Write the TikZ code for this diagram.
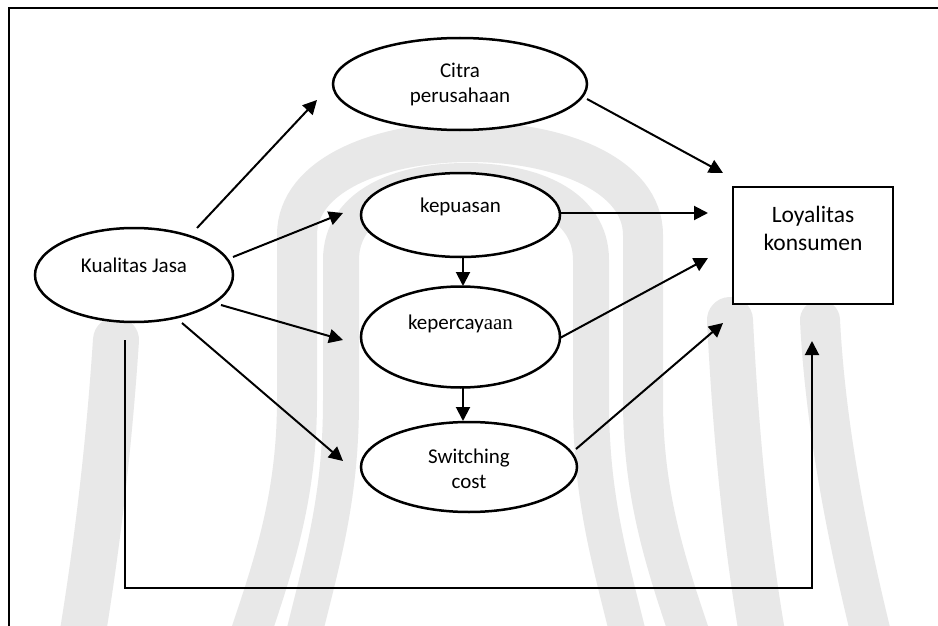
\documentclass[tikz,border=0pt]{standalone}
\usepackage{fontspec}
\setmainfont{Carlito}
\newfontfamily\serifpart{Liberation Serif}
\usetikzlibrary{shapes.geometric,arrows.meta}
\begin{document}
\begin{tikzpicture}[x=1pt,y=-1pt,
  ell/.style={ellipse,draw,line width=2.5pt,fill=white,inner sep=0pt},
  box/.style={rectangle,draw,line width=2.5pt,fill=white,inner sep=0pt},
  arr/.style={line width=2pt,-{Triangle[length=14pt,width=14pt]}},
  wm/.style={draw=black!9,line cap=round},
  txt/.style={font=\fontsize{21}{25}\selectfont,align=center,inner sep=0pt},
  bigtxt/.style={font=\fontsize{23.5}{28}\selectfont,align=center,inner sep=0pt}]
\useasboundingbox (0,0) rectangle (938,626);
\fill[white] (0,0) rectangle (938,626);
% faint watermark in the background
\draw[wm,line width=36pt] (300,650) .. controls (322,560) and (341,500) .. (341,400) -- (341,260)
  .. controls (341,205) and (400,181) .. (466,181)
  .. controls (532,181) and (591,205) .. (591,260) -- (591,400)
  .. controls (591,500) and (610,560) .. (632,650);
\draw[wm,line width=40pt] (245,650) .. controls (272,570) and (297,500) .. (297,400) -- (297,235)
  .. controls (297,175) and (380,142) .. (470,142)
  .. controls (560,142) and (643,175) .. (643,235) -- (643,400)
  .. controls (643,500) and (668,570) .. (695,650);
\draw[wm,line width=46pt] (730,320) .. controls (735,420) and (745,540) .. (765,650);
\draw[wm,line width=40pt] (820,320) .. controls (825,420) and (845,530) .. (875,650);
\draw[wm,line width=46pt] (116,340) .. controls (110,430) and (100,530) .. (80,650);
% outer frame
\draw[line width=2pt] (9,626) -- (9,8) -- (938,8);
% nodes
\node[ell,minimum width=198pt,minimum height=94pt,
  label={[txt,yshift=10pt]center:Kualitas Jasa}] (kj) at (134,275) {};
\node[ell,minimum width=254pt,minimum height=92pt,
  label={[txt,yshift=-0.5pt]center:Citra\\perusahaan}] (citra) at (460,84) {};
\node[ell,minimum width=199pt,minimum height=84pt,
  label={[txt,yshift=8pt]center:kepuasan}] (puas) at (460.5,215) {};
\node[ell,minimum width=199pt,minimum height=101pt,
  label={[txt,yshift=13pt]center:kepercay{\serifpart aan}}] (percaya) at (460.5,337) {};
\node[ell,minimum width=216pt,minimum height=90pt,
  label={[txt,yshift=-2pt]center:Switching\\cost}] (switch) at (469,467) {};
\node[box,minimum width=160pt,minimum height=117pt,
  label={[bigtxt,yshift=17pt]center:Loyalitas\\konsumen}] (loyal) at (813,245.5) {};
% connector end points (arrows stop short of the shapes)
\coordinate (kjA) at (197,228);  \coordinate (citraIn) at (317,100);
\coordinate (kjB) at (233,257);  \coordinate (puasIn) at (343,213);
\coordinate (kjC) at (221,305);  \coordinate (percayaIn) at (343,340);
\coordinate (kjD) at (182,323);  \coordinate (switchIn) at (343,461);
\coordinate (puasBot) at (463,258); \coordinate (percayaTop) at (463,286);
\coordinate (percayaBot) at (463,388); \coordinate (switchTop) at (463,421);
\coordinate (citraOut) at (587,99);  \coordinate (loyA) at (723,173);
\coordinate (puasOut) at (560,213);  \coordinate (loyB) at (708,213);
\coordinate (percayaOut) at (560,338); \coordinate (loyC) at (708,258);
\coordinate (switchOut) at (576,449); \coordinate (loyD) at (723,323);
\coordinate (kjE) at (125,340); \coordinate (cornerL) at (125,588);
\coordinate (cornerR) at (812,588); \coordinate (loyE) at (812,341);
% connectors
\draw[arr] (kjA) -- (citraIn);
\draw[arr] (kjB) -- (puasIn);
\draw[arr] (kjC) -- (percayaIn);
\draw[arr] (kjD) -- (switchIn);
\draw[arr] (puasBot) -- (percayaTop);
\draw[arr] (percayaBot) -- (switchTop);
\draw[arr] (citraOut) -- (loyA);
\draw[arr] (puasOut) -- (loyB);
\draw[arr] (percayaOut) -- (loyC);
\draw[arr] (switchOut) -- (loyD);
\draw[arr] (kjE) -- (cornerL) -- (cornerR) -- (loyE);
\end{tikzpicture}
\end{document}
